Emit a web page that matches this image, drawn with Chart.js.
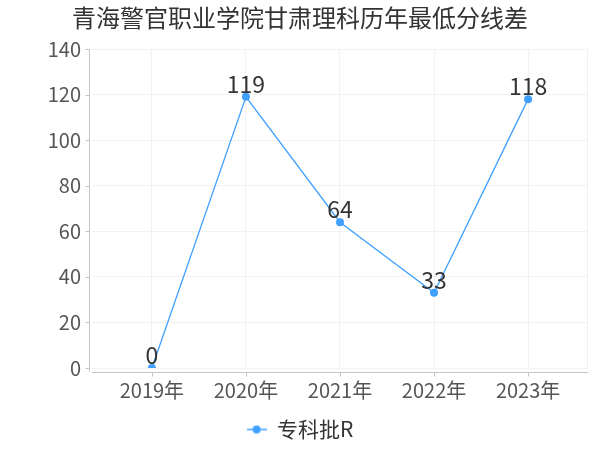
<!DOCTYPE html>
<html>
<head>
<meta charset="utf-8">
<script src="https://cdn.jsdelivr.net/npm/chart.js@4"></script>
<style>
  html, body { margin: 0; padding: 0; background: #fff; }
  #wrap { width: 600px; height: 450px; }
</style>
</head>
<body>
<div id="wrap"><canvas id="chart"></canvas></div>
<script>
const titleText = '青海警官职业学院甘肃理科历年最低分线差';
const categories = ['2019年', '2020年', '2021年', '2022年', '2023年'];
const seriesName = '专科批R';
const values = [0, 119, 64, 33, 118];
const yMin = 0, yMax = 140, yStep = 20;

const FONT = '"Noto Sans CJK SC", "Noto Sans", sans-serif';
const LINE = '#3fa0ff';

// legend marker: short line with a dot
const marker = document.createElement('canvas');
marker.width = 20; marker.height = 10;
(function () {
    const c = marker.getContext('2d');
    c.strokeStyle = LINE; c.lineWidth = 1.5;
    c.beginPath(); c.moveTo(0, 5); c.lineTo(20, 5); c.stroke();
    c.fillStyle = LINE;
    c.beginPath(); c.arc(10, 5, 4, 0, Math.PI * 2); c.fill();
})();

const valueLabels = {
    id: 'valueLabels',
    afterDatasetsDraw(chart) {
        const ctx = chart.ctx;
        const meta = chart.getDatasetMeta(0);
        ctx.save();
        ctx.font = '23px ' + FONT;
        ctx.fillStyle = '#333';
        ctx.textAlign = 'center';
        ctx.textBaseline = 'middle';
        meta.data.forEach((pt, i) => {
            ctx.fillText(String(values[i]), pt.x, pt.y - 13);
        });
        ctx.restore();
    }
};

const axisLines = {
    id: 'axisLines',
    afterDraw(chart) {
        const ctx = chart.ctx;
        const a = chart.chartArea;
        const xs = chart.scales.x, ys = chart.scales.y;
        ctx.save();
        ctx.strokeStyle = '#c4c4c4';
        ctx.lineWidth = 1;
        // y axis
        const yx = Math.round(a.left - 3) + 0.5;
        ctx.beginPath();
        ctx.moveTo(yx, a.top); ctx.lineTo(yx, a.bottom + 4);
        ys.ticks.forEach(t => {
            const py = Math.round(ys.getPixelForValue(t.value)) + 0.5;
            ctx.moveTo(yx - 4, py); ctx.lineTo(yx, py);
        });
        // x axis
        const xy = Math.round(a.bottom + 4) + 0.5;
        ctx.moveTo(a.left, xy); ctx.lineTo(a.right, xy);
        xs.ticks.forEach(t => {
            const px = Math.round(xs.getPixelForValue(t.value)) + 0.5;
            ctx.moveTo(px, xy); ctx.lineTo(px, xy + 4);
        });
        ctx.stroke();
        // right edge grid line
        ctx.strokeStyle = '#f0f0f0';
        ctx.beginPath();
        ctx.moveTo(Math.round(a.right) - 0.5, a.top);
        ctx.lineTo(Math.round(a.right) - 0.5, a.bottom);
        ctx.stroke();
        // title, centred on the canvas
        ctx.font = '24px ' + FONT;
        ctx.fillStyle = '#333';
        ctx.textAlign = 'center';
        ctx.textBaseline = 'middle';
        ctx.fillText(titleText, chart.width / 2, 18);
        ctx.restore();
    }
};

new Chart(document.getElementById('chart'), {
    type: 'line',
    data: {
        datasets: [{
            label: seriesName,
            data: values.map((v, i) => ({ x: i, y: v })),
            borderColor: LINE,
            backgroundColor: LINE,
            borderWidth: 1.3,
            pointRadius: 4,
            pointHoverRadius: 4,
            pointBackgroundColor: LINE,
            pointBorderWidth: 0,
            tension: 0
        }]
    },
    options: {
        responsive: true,
        maintainAspectRatio: false,
        animation: false,
        layout: { padding: { left: 0, right: 0, top: 49, bottom: 0 } },
        plugins: {
            title: { display: false },
            legend: {
                position: 'bottom',
                labels: {
                    usePointStyle: true,
                    pointStyle: marker,
                    pointStyleWidth: 20,
                    color: '#333',
                    font: { family: FONT, size: 21 },
                    padding: 6,
                    generateLabels(chart) {
                        return [{
                            text: seriesName,
                            pointStyle: marker,
                            fillStyle: LINE,
                            strokeStyle: LINE,
                            lineWidth: 0,
                            fontColor: '#333',
                            datasetIndex: 0
                        }];
                    }
                }
            },
            tooltip: { enabled: false }
        },
        scales: {
            x: {
                type: 'linear',
                min: -0.637,
                max: categories.length - 1 + 0.637,
                afterBuildTicks(scale) {
                    scale.ticks = categories.map((c, i) => ({ value: i }));
                },
                afterFit(scale) { scale.height = 45; },
                ticks: {
                    autoSkip: false,
                    maxRotation: 0,
                    color: '#555',
                    font: { family: FONT, size: 20 },
                    padding: 10,
                    callback: (v) => categories[v]
                },
                grid: { color: '#f2f2f2', drawTicks: false },
                border: { display: false }
            },
            y: {
                min: yMin,
                max: yMax,
                afterFit(scale) { scale.width = 92; },
                ticks: {
                    stepSize: yStep,
                    color: '#555',
                    font: { family: FONT, size: 20 },
                    padding: 11
                },
                grid: { color: '#f2f2f2', drawTicks: false },
                border: { display: false }
            },
            yRight: {
                position: 'right',
                display: true,
                min: yMin,
                max: yMax,
                afterFit(scale) { scale.width = 12; },
                ticks: { display: false },
                grid: { display: false },
                border: { display: false }
            }
        }
    },
    plugins: [valueLabels, axisLines]
});
</script>
</body>
</html>
